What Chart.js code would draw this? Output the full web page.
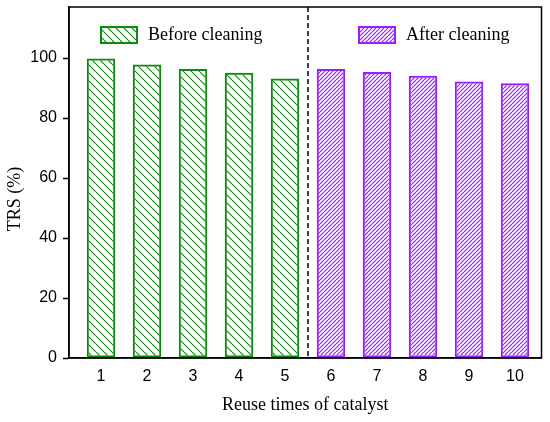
<!DOCTYPE html>
<html>
<head>
<meta charset="utf-8">
<script src="https://cdn.jsdelivr.net/npm/chart.js@4"></script>
<style>
  html, body { margin: 0; padding: 0; background: #fff; }
  #wrap { width: 550px; height: 422px; }
</style>
</head>
<body>
<div id="wrap"><canvas id="trsChart"></canvas></div>
<script>
// data
const beforeRuns = [1, 2, 3, 4, 5];
const afterRuns = [6, 7, 8, 9, 10];
const beforeTRS = [99.8, 97.8, 96.3, 95.1, 93.2];
const afterTRS = [96.3, 95.3, 94.1, 92.2, 91.6];
const xTicks = [1, 2, 3, 4, 5, 6, 7, 8, 9, 10];
const yTicks = [0, 20, 40, 60, 80, 100];
const seriesLabels = ['Before cleaning', 'After cleaning'];
const yTitle = 'TRS (%)';

const green = '#0b8a0b';
const purple = '#9a1cff';
const serif = '"Liberation Serif", "Times New Roman", serif';

// hatch fills
function hatch(color, size, down, lw) {
    const c = document.createElement('canvas');
    c.width = size; c.height = size;
    const g = c.getContext('2d');
    g.strokeStyle = color;
    g.lineWidth = lw;
    g.beginPath();
    for (let k = -1; k <= 1; k++) {
        if (down) {
            g.moveTo(k * size, 0);
            g.lineTo(k * size + size, size);
        } else {
            g.moveTo(k * size, size);
            g.lineTo(k * size + size, 0);
        }
    }
    g.stroke();
    return g.createPattern(c, 'repeat');
}
const greenHatch = hatch(green, 8, true, 1.1);
const purpleHatch = hatch(purple, 4, false, 1.2);

const frameAndExtras = {
    id: 'frameAndExtras',
    afterDatasetsDraw(chart) {
        const { ctx, chartArea: a, scales } = chart;
        ctx.save();
        // dashed separator between the two groups
        const xs = scales.x.getPixelForValue(5.5);
        ctx.strokeStyle = '#000';
        ctx.lineWidth = 1.5;
        ctx.setLineDash([5, 3]);
        ctx.beginPath();
        ctx.moveTo(xs, a.top);
        ctx.lineTo(xs, a.bottom);
        ctx.stroke();
        ctx.setLineDash([]);
        // box
        ctx.lineWidth = 1.5;
        ctx.strokeRect(a.left, a.top, a.right - a.left, a.bottom - a.top);
        // legend inside the plot
        const items = [
            { left: a.left + 31, ds: chart.data.datasets[0] },
            { left: a.left + 289, ds: chart.data.datasets[1] }
        ];
        ctx.font = '18px ' + serif;
        ctx.textBaseline = 'middle';
        items.forEach(it => {
            const top = a.top + 19;
            ctx.fillStyle = it.ds.backgroundColor;
            ctx.fillRect(it.left, top, 38, 18);
            ctx.strokeStyle = it.ds.borderColor;
            ctx.lineWidth = 2;
            ctx.strokeRect(it.left + 1, top + 1, 36, 16);
            ctx.fillStyle = '#000';
            ctx.fillText(it.ds.label, it.left + 48, top + 9);
        });
        // y axis title, a bit below the middle as in the figure
        ctx.translate(15, 199);
        ctx.rotate(-Math.PI / 2);
        ctx.textAlign = 'center';
        ctx.fillText(yTitle, 0, 0);
        ctx.restore();
    }
};

new Chart(document.getElementById('trsChart'), {
    type: 'bar',
    data: {
        datasets: [{
            label: seriesLabels[0],
            data: beforeRuns.map((r, i) => ({ x: r, y: beforeTRS[i] })),
            backgroundColor: greenHatch,
            borderColor: green,
            borderWidth: 2,
            borderSkipped: false,
            grouped: false
        }, {
            label: seriesLabels[1],
            data: afterRuns.map((r, i) => ({ x: r, y: afterTRS[i] })),
            backgroundColor: purpleHatch,
            borderColor: purple,
            borderWidth: 2,
            borderSkipped: false,
            grouped: false
        }]
    },
    options: {
        responsive: true,
        maintainAspectRatio: false,
        animation: false,
        categoryPercentage: 1,
        barPercentage: 0.62,
        layout: { padding: { left: 0, right: 8.5, top: 7, bottom: 0 } },
        plugins: { legend: { display: false }, tooltip: { enabled: false } },
        scales: {
            x: {
                type: 'linear',
                offset: false,
                min: 0.304,
                max: 10.576,
                afterBuildTicks: s => { s.ticks = xTicks.map(v => ({ value: v })); },
                afterFit: s => { s.height = 64; s.paddingLeft = 0; s.paddingRight = 0; },
                grid: { display: false },
                border: { color: '#000', width: 1.5 },
                ticks: {
                    color: '#000',
                    padding: 1,
                    font: { family: '"Liberation Sans", Arial, sans-serif', size: 16 }
                },
                title: {
                    display: true,
                    text: 'Reuse times of catalyst',
                    color: '#000',
                    padding: { top: 6, bottom: 6 },
                    font: { family: serif, size: 18 }
                }
            },
            y: {
                min: 0,
                max: 117,
                afterBuildTicks: s => { s.ticks = yTicks.map(v => ({ value: v })); },
                afterFit: s => { s.width = 69; s.paddingTop = 0; s.paddingBottom = 0; },
                grid: {
                    drawOnChartArea: false,
                    tickLength: 6,
                    tickWidth: 1.5,
                    color: '#000'
                },
                border: { color: '#000', width: 1.5 },
                ticks: {
                    color: '#000',
                    padding: 6,
                    font: { family: '"Liberation Sans", Arial, sans-serif', size: 16 }
                }
            }
        }
    },
    plugins: [frameAndExtras]
});
</script>
</body>
</html>
